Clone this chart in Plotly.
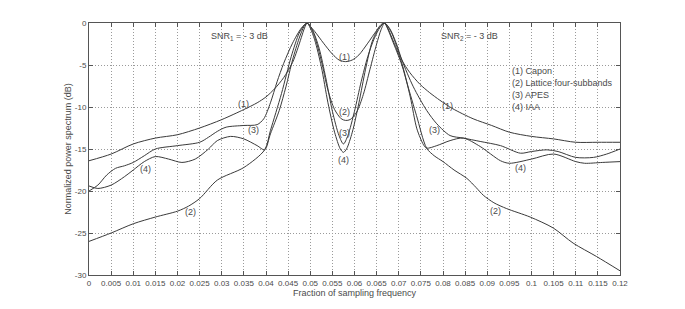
import plotly.graph_objects as go

# ---- data ----
capon_x = [0, 0.005, 0.01, 0.015, 0.02, 0.025, 0.03, 0.035, 0.038, 0.040, 0.042, 0.044, 0.046, 0.047, 0.048, 0.0487, 0.0493,
           0.050, 0.051, 0.053, 0.055, 0.0565, 0.058, 0.0595, 0.061, 0.063, 0.065, 0.066, 0.0668, 0.0675, 0.0685, 0.0707,
           0.0725, 0.0748, 0.077, 0.0793, 0.0822, 0.0868, 0.091, 0.095, 0.100, 0.105, 0.110, 0.115, 0.12]
capon_y = [-16.4, -15.6, -14.4, -13.7, -13.3, -12.5, -11.5, -10.3, -9.5, -8.8, -7.8, -6.5, -4.7, -3.3, -1.7, -0.6, 0,
           -0.4, -1.0, -2.4, -3.7, -4.4, -4.6, -4.4, -3.8, -2.4, -0.9, -0.3, 0, -0.4, -1.3, -4.4,
           -5.9, -7.3, -8.3, -9.2, -10.2, -11.4, -12.2, -13.0, -13.5, -13.8, -14.2, -14.2, -14.2]

lattice_x = [0, 0.005, 0.01, 0.015, 0.02, 0.0225, 0.025, 0.029, 0.035, 0.0397, 0.041, 0.0435, 0.0457, 0.0475, 0.0486, 0.0493,
             0.050, 0.051, 0.0525, 0.054, 0.0555, 0.057, 0.058, 0.059, 0.0605, 0.062, 0.0635, 0.065, 0.066, 0.0668,
             0.0675, 0.0685, 0.0707, 0.072, 0.074, 0.0763, 0.078, 0.080, 0.0825, 0.0854, 0.0875, 0.0891, 0.0915, 0.0944,
             0.0997, 0.1049, 0.1094, 0.1147, 0.12]
lattice_y = [-26.0, -25.0, -23.9, -23.1, -22.4, -21.8, -20.9, -18.7, -17.2, -15.1, -12.8, -8.4, -4.0, -1.2, -0.3, 0,
             -0.4, -1.6, -4.5, -8.0, -10.3, -11.4, -11.6, -11.5, -10.6, -8.5, -5.5, -2.5, -0.8, 0,
             -0.7, -2.0, -5.0, -7.4, -11.0, -14.9, -15.8, -16.5, -17.5, -18.5, -19.6, -20.5, -21.4, -22.1,
             -23.1, -24.4, -26.2, -27.8, -29.5]

apes_x = [0, 0.002, 0.004, 0.006, 0.008, 0.010, 0.0125, 0.015, 0.02, 0.025, 0.027, 0.029, 0.031, 0.035, 0.038, 0.0395,
          0.041, 0.0425, 0.044, 0.046, 0.048, 0.0493, 0.0505, 0.052, 0.0535, 0.055, 0.0565, 0.0575, 0.0585, 0.060,
          0.0615, 0.063, 0.0645, 0.0658, 0.0668, 0.068, 0.0695, 0.0707, 0.0733, 0.0763, 0.0786, 0.0816, 0.0846,
          0.0884, 0.093, 0.0975, 0.100, 0.1035, 0.106, 0.110, 0.114, 0.117, 0.12]
apes_y = [-20.0, -19.3, -18.1, -17.3, -17.0, -16.6, -15.8, -15.0, -14.6, -14.2, -13.6, -12.9, -12.4, -12.2, -12.1, -11.4,
          -9.5, -7.0, -4.8, -2.4, -0.6, 0, -0.8, -3.0, -6.5, -10.5, -13.4, -14.4, -13.4, -10.5,
          -7.0, -4.0, -1.8, -0.5, 0, -0.7, -2.5, -4.4, -7.6, -10.4, -12.0, -13.4, -13.7,
          -14.1, -14.6, -15.5, -15.3, -15.1, -15.3, -16.0, -16.0, -15.6, -15.0]

iaa_x = [0, 0.002, 0.005, 0.008, 0.010, 0.0125, 0.015, 0.018, 0.021, 0.024, 0.027, 0.029, 0.032, 0.035, 0.038, 0.0397,
         0.041, 0.043, 0.0445, 0.046, 0.0475, 0.0486, 0.0493, 0.050, 0.051, 0.0525, 0.054, 0.0555, 0.0568, 0.0575,
         0.0582, 0.0595, 0.061, 0.0625, 0.064, 0.0655, 0.0662, 0.0668, 0.0675, 0.0685, 0.0707, 0.0726, 0.0741,
         0.0756, 0.0763, 0.0786, 0.0816, 0.0846, 0.0884, 0.093, 0.095, 0.100, 0.105, 0.110, 0.112, 0.116, 0.12]
iaa_y = [-19.4, -19.7, -19.3, -18.3, -17.5, -16.5, -15.9, -16.2, -16.6, -16.2, -15.0, -14.0, -13.5, -13.8, -14.6, -15.1,
         -13.2, -10.4, -7.6, -4.4, -1.8, -0.4, 0, -0.6, -2.0, -5.2, -9.5, -13.0, -15.0, -15.4,
         -15.0, -13.0, -9.5, -5.5, -2.2, -0.5, -0.1, 0, -0.6, -1.8, -4.8, -8.8, -12.6,
         -14.5, -14.9, -14.6, -14.0, -13.7, -14.7, -16.4, -16.7, -16.2, -15.6, -16.5, -16.7, -16.6, -16.5]

x_tickvals = [i * 0.005 for i in range(25)]
x_ticktext = ["0", "0.005", "0.01", "0.015", "0.02", "0.025", "0.03", "0.035", "0.04", "0.045", "0.05", "0.055",
              "0.06", "0.065", "0.07", "0.075", "0.08", "0.085", "0.09", "0.095", "0.1", "0.105", "0.11", "0.115", "0.12"]
y_tickvals = [0, -5, -10, -15, -20, -25, -30]
y_ticktext = ["0", "-5", "-10", "-15", "-20", "-25", "-30"]

legend_lines = ["(1) Capon", "(2) Lattice four-subbands", "(3) APES", "(4) IAA"]
legend_y = [-5.7, -7.1, -8.6, -10.0]
legend_x = 0.0951

# curve labels: (text, x, y)
curve_labels = [
    ("(1)", 0.0349, -9.6), ("(3)", 0.0372, -12.7), ("(4)", 0.0128, -17.4), ("(2)", 0.0229, -22.5),
    ("(1)", 0.0577, -4.0), ("(2)", 0.0577, -10.6), ("(3)", 0.0577, -13.1), ("(4)", 0.0574, -16.3),
    ("(1)", 0.0810, -9.9), ("(3)", 0.0780, -12.7), ("(4)", 0.0974, -17.3), ("(2)", 0.0918, -22.4),
]

# ---- figure ----
FONT = "Liberation Sans, Arial, sans-serif"
LINE_COLOR = "#3a3a3a"
TEXT_COLOR = "#4a4a4a"

fig = go.Figure()
for xs, ys, name in [(capon_x, capon_y, "Capon"), (lattice_x, lattice_y, "Lattice four-subbands"),
                     (apes_x, apes_y, "APES"), (iaa_x, iaa_y, "IAA")]:
    fig.add_trace(go.Scatter(x=xs, y=ys, mode="lines", name=name,
                             line=dict(color=LINE_COLOR, width=1, shape="spline", smoothing=0.8),
                             showlegend=False, hoverinfo="skip"))

for txt, xv, yv in curve_labels:
    fig.add_annotation(x=xv, y=yv, text=txt, showarrow=False,
                       font=dict(family=FONT, size=9, color=TEXT_COLOR))

for txt, yv in zip(legend_lines, legend_y):
    fig.add_annotation(x=legend_x, y=yv, text=txt, showarrow=False, xanchor="left",
                       font=dict(family=FONT, size=9, color=TEXT_COLOR))

fig.add_annotation(x=0.034, y=-1.6, text="SNR<sub>1</sub> = - 3 dB", showarrow=False,
                   font=dict(family=FONT, size=9, color=TEXT_COLOR))
fig.add_annotation(x=0.0861, y=-1.6, text="SNR<sub>2</sub> = - 3 dB", showarrow=False,
                   font=dict(family=FONT, size=9, color=TEXT_COLOR))

axis_common = dict(
    showgrid=True, gridcolor="#9a9a9a", griddash="1px,2px", gridwidth=1,
    showline=True, linecolor="#555555", linewidth=1, mirror="ticks",
    ticks="inside", ticklen=4, tickcolor="#555555", tickwidth=1,
    zeroline=False, tickfont=dict(family=FONT, size=8, color=TEXT_COLOR),
)

fig.update_xaxes(range=[0, 0.12], tickvals=x_tickvals, ticktext=x_ticktext,
                 title=dict(text="Fraction of sampling frequency", standoff=2,
                            font=dict(family=FONT, size=9, color=TEXT_COLOR)),
                 **axis_common)
fig.update_yaxes(range=[-30, 0], tickvals=y_tickvals, ticktext=y_ticktext,
                 title=dict(text="Normalized power spectrum (dB)", standoff=1,
                            font=dict(family=FONT, size=9, color=TEXT_COLOR)),
                 **axis_common)

# the page body adds an 8 px offset, so the margins are shifted to compensate
fig.update_layout(width=685, height=309, margin=dict(l=81, r=73, t=15, b=42),
                  paper_bgcolor="white", plot_bgcolor="white")

fig.write_html("out.html")
